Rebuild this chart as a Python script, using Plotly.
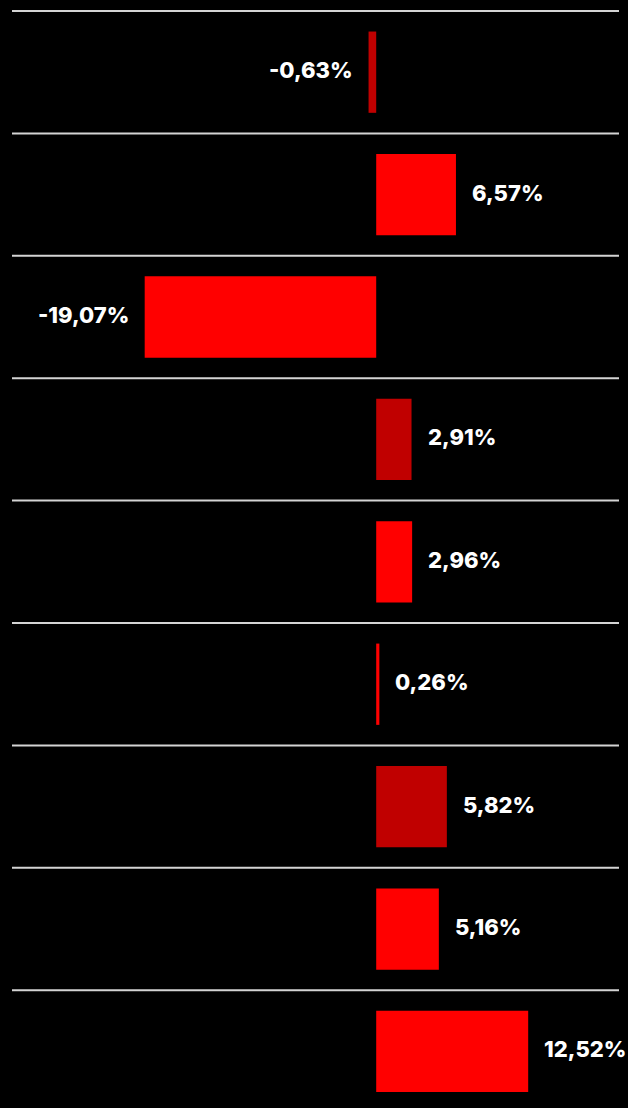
import plotly.graph_objects as go

values = [-0.63, 6.57, -19.07, 2.91, 2.96, 0.26, 5.82, 5.16, 12.52]
labels = ["-0,63%", "6,57%", "-19,07%", "2,91%", "2,96%", "0,26%", "5,82%", "5,16%", "12,52%"]
bar_colors = ["#c00000", "#ff0000", "#ff0000", "#c00000", "#ff0000", "#ff0000", "#c00000", "#ff0000", "#ff0000"]

positions = list(range(len(values)))

fig = go.Figure()
fig.add_trace(go.Bar(
    x=values, y=positions, orientation="h",
    marker=dict(color=bar_colors, line=dict(width=0)),
    width=0.664, hoverinfo="skip",
))

for i, (v, t) in enumerate(zip(values, labels)):
    fig.add_annotation(
        x=v, y=i, text=t, showarrow=False,
        xanchor="left" if v >= 0 else "right",
        xshift=14 if v >= 0 else -14,
        yshift=2,
        yanchor="middle",
        font=dict(family="Inter", size=22, color="white", weight=800),
    )

for i in range(len(values)):
    fig.add_shape(type="line", xref="paper", x0=0, x1=1, y0=i - 0.5, y1=i - 0.5,
                  line=dict(color="#d4d4d4", width=2), layer="below")

fig.update_layout(
    width=628, height=1108,
    paper_bgcolor="black", plot_bgcolor="black",
    margin=dict(l=12, r=9, t=10, b=0),
    showlegend=False,
    xaxis=dict(range=[-30, 20], visible=False, showgrid=False, zeroline=False),
    yaxis=dict(range=[8.462, -0.508], visible=False, showgrid=False, zeroline=False),
)

fig.write_html(
    "out.html",
    config={"displayModeBar": False},
    post_script="document.body.style.margin='0';document.body.style.padding='0';document.body.style.background='black';",
)
